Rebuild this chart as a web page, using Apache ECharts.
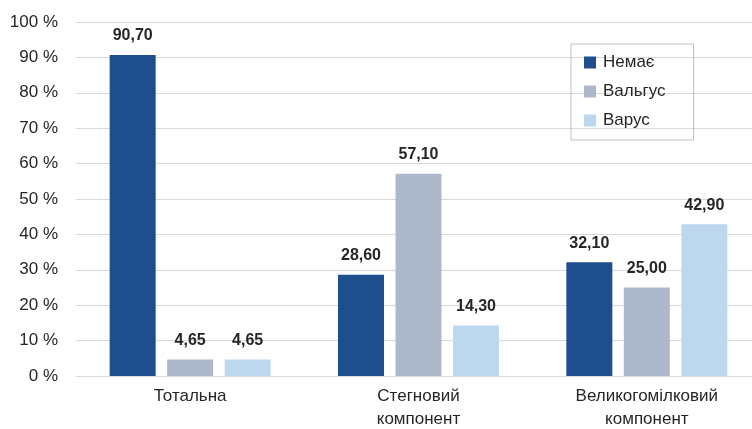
<!DOCTYPE html>
<html>
<head>
<meta charset="utf-8">
<script src="https://cdn.jsdelivr.net/npm/echarts@6/dist/echarts.min.js"></script>
<style>
  html, body { margin: 0; padding: 0; background: #fff; }
  #chart { width: 752px; height: 429px; }
</style>
</head>
<body>
<div id="chart"></div>
<script>
const categories = ["Тотальна", "Стегновий\nкомпонент", "Великогомілковий\nкомпонент"];
const seriesNames = ["Немає", "Вальгус", "Варус"];
const nemaie = [90.7, 28.6, 32.1];
const valgus = [4.65, 57.1, 25.0];
const varus = [4.65, 14.3, 42.9];
const colors = ["#1F4E8F", "#ADB9CA", "#BDD7EE"];

const FONT = "'Liberation Sans', Arial, sans-serif";

const chart = echarts.init(document.getElementById("chart"));

const makeSeries = (name, data, color) => ({
  name: name,
  type: "bar",
  data: data,
  barWidth: 46,
  barGap: "25%",
  itemStyle: { color: color },
  label: {
    show: true,
    position: "top",
    distance: 11,
    color: "#262626",
    fontFamily: FONT,
    fontWeight: "bold",
    fontSize: 16,
    formatter: (p) => p.value.toFixed(2).replace(".", ","),
  },
});

const option = {
  animation: false,
  grid: { left: 76, top: 22, width: 685, bottom: 53, outerBoundsMode: "none", containLabel: false },
  legend: {
    orient: "vertical",
    left: 571,
    top: 44,
    padding: [10, 28, 11, 13],
    itemGap: 12,
    itemWidth: 12,
    itemHeight: 12,
    borderColor: "#BFBFBF",
    borderWidth: 1,
    icon: "rect",
    textStyle: { fontFamily: FONT, fontSize: 17, lineHeight: 17, color: "#262626", padding: [0, 0, 0, 2] },
    data: seriesNames,
  },
  xAxis: {
    type: "category",
    data: categories,
    axisLine: { lineStyle: { color: "#D9D9D9", width: 1 } },
    axisTick: { show: false },
    axisLabel: {
      color: "#262626",
      fontFamily: FONT,
      fontSize: 17,
      lineHeight: 23,
      margin: 9,
    },
  },
  yAxis: {
    type: "value",
    min: 0,
    max: 100,
    interval: 10,
    axisLine: { show: false },
    axisTick: { show: false },
    splitLine: { lineStyle: { color: "#D9D9D9", width: 1 } },
    axisLabel: {
      color: "#262626",
      fontFamily: FONT,
      fontSize: 17,
      margin: 18,
      formatter: (v) => v + " %",
    },
  },
  series: [
    makeSeries(seriesNames[0], nemaie, colors[0]),
    makeSeries(seriesNames[1], valgus, colors[1]),
    makeSeries(seriesNames[2], varus, colors[2]),
  ],
};

chart.setOption(option);
</script>
</body>
</html>
